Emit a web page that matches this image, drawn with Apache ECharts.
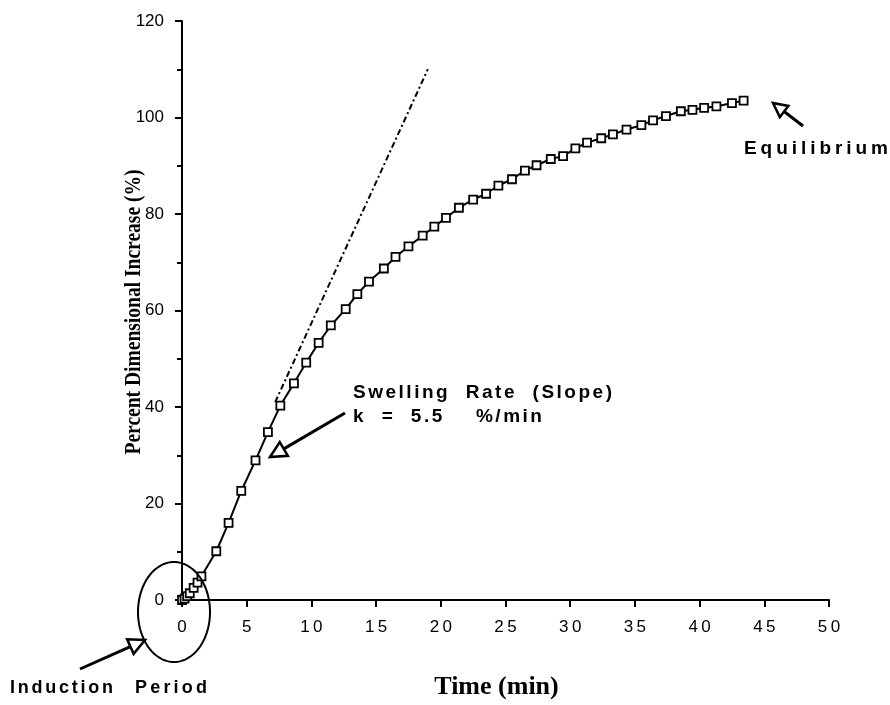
<!DOCTYPE html>
<html>
<head>
<meta charset="utf-8">
<script src="https://cdn.jsdelivr.net/npm/echarts@6/dist/echarts.min.js"></script>
<style>
html,body{margin:0;padding:0;background:#fff;}
#chart{width:890px;height:705px;}
</style>
</head>
<body>
<div id="chart"></div>
<script>
// ---- data ----
var timeMin = [0, 0.2, 0.4, 0.6, 0.9, 1.2, 1.5, 2.65, 3.6, 4.58, 5.68, 6.64, 7.6, 8.65, 9.6, 10.56, 11.5, 12.65, 13.55, 14.45, 15.6, 16.5, 17.5, 18.6, 19.5, 20.4, 21.4, 22.5, 23.5, 24.45, 25.5, 26.5, 27.4, 28.5, 29.45, 30.4, 31.3, 32.4, 33.3, 34.35, 35.5, 36.4, 37.4, 38.55, 39.45, 40.35, 41.3, 42.5, 43.4];
var increasePct = [0, 0.3, 0.8, 1.4, 2.5, 3.6, 4.9, 10.1, 16, 22.6, 28.95, 34.8, 40.3, 44.9, 49.2, 53.3, 56.9, 60.3, 63.4, 66, 68.7, 71.1, 73.3, 75.5, 77.4, 79.2, 81.3, 83, 84.2, 85.9, 87.2, 89, 90.1, 91.4, 92, 93.6, 94.8, 95.7, 96.5, 97.5, 98.4, 99.4, 100.3, 101.3, 101.6, 102, 102.3, 103, 103.5];
var tangentTime = [7.2, 19];
var tangentPct = [41, 110];
var xTicks = [0, 5, 10, 15, 20, 25, 30, 35, 40, 45, 50];
var yTicks = [0, 20, 40, 60, 80, 100, 120];
var xTitle = 'Time (min)';
var yTitle = 'Percent Dimensional Increase (%)';

var chart = echarts.init(document.getElementById('chart'), null, {renderer: 'canvas'});

function pairs(xs, ys) { return xs.map(function (x, i) { return [x, ys[i]]; }); }

var sans = 'Liberation Sans, Arial, sans-serif';
var serif = 'Liberation Serif, Times New Roman, serif';

var mctx = document.createElement('canvas').getContext('2d');
function measure(s, font) { mctx.font = font; return mctx.measureText(s).width; }

// letter-spaced text: fit string into a target width starting at x
function spaced(str, x, y, font, targetW) {
  var natural = measure(str, font);
  var sp = targetW ? (targetW - natural) / (str.length - 1) : 0;
  var kids = [], cx = x;
  for (var i = 0; i < str.length; i++) {
    var ch = str[i];
    if (ch !== ' ') {
      kids.push({type: 'text', x: cx, y: y, style: {text: ch, font: font, fill: '#000', textVerticalAlign: 'middle'}, z: 100});
    }
    cx += measure(ch, font) + sp;
  }
  return {type: 'group', children: kids, z: 100};
}

function arrow(tail, tip, headLen, headW) {
  var dx = tip[0] - tail[0], dy = tip[1] - tail[1];
  var L = Math.sqrt(dx * dx + dy * dy);
  var ux = dx / L, uy = dy / L;
  var bx = tip[0] - ux * headLen, by = tip[1] - uy * headLen;
  var px = -uy, py = ux;
  return [
    {type: 'line', shape: {x1: tail[0], y1: tail[1], x2: bx, y2: by}, style: {stroke: '#000', lineWidth: 3}, z: 100},
    {type: 'polygon', shape: {points: [[tip[0], tip[1]], [bx + px * headW, by + py * headW], [bx - px * headW, by - py * headW]]},
      style: {fill: '#fff', stroke: '#000', lineWidth: 2.5}, z: 101}
  ];
}

function ellipsePts(cx, cy, rx, ry) {
  var p = [];
  for (var i = 0; i <= 120; i++) {
    var a = i / 120 * Math.PI * 2;
    p.push([cx + rx * Math.cos(a), cy + ry * Math.sin(a)]);
  }
  return p;
}

var option = {
  animation: false,
  backgroundColor: '#fff',
  grid: {left: 182, top: 21, right: 61, bottom: 101, containLabel: false},
  xAxis: {
    type: 'value', min: 0, max: 50, interval: 5,
    name: xTitle, nameLocation: 'middle', nameGap: 74,
    nameTextStyle: {fontFamily: serif, fontWeight: 'bold', fontSize: 26, color: '#000', padding: [0, 18, 0, 0]},
    axisLine: {show: true, onZero: false, lineStyle: {color: '#000', width: 2}},
    axisTick: {show: true, inside: false, length: 7, lineStyle: {color: '#000', width: 2}},
    axisLabel: {show: true, margin: 19, fontFamily: sans, fontSize: 17, color: '#000',
      formatter: function (v) { return xTicks.indexOf(v) >= 0 ? String(v).split('').join('\u2009') : ''; }},
    splitLine: {show: false}
  },
  yAxis: {
    type: 'value', min: 0, max: 120, interval: 20,
    axisLine: {show: true, onZero: false, lineStyle: {color: '#000', width: 2}},
    axisTick: {show: true, inside: false, length: 7, lineStyle: {color: '#000', width: 2}},
    minorTick: {show: true, splitNumber: 2, length: 5, lineStyle: {color: '#000', width: 2}},
    axisLabel: {show: true, margin: 18, fontFamily: sans, fontSize: 17, color: '#000',
      formatter: function (v) { return yTicks.indexOf(v) >= 0 ? String(v) : ''; }},
    splitLine: {show: false}
  },
  series: [
    {
      type: 'line', name: 'tangent', data: pairs(tangentTime, tangentPct),
      showSymbol: false, symbol: 'none',
      lineStyle: {color: '#000', width: 2, type: [6, 3, 2, 3]}, z: 2
    },
    {
      type: 'line', name: 'swelling', data: pairs(timeMin, increasePct),
      symbol: 'rect', symbolSize: 8, showAllSymbol: true,
      lineStyle: {color: '#000', width: 2},
      itemStyle: {color: '#fff', borderColor: '#000', borderWidth: 1.8}, z: 3
    }
  ]
};
chart.setOption(option);

var g = [];
// y-axis title (slightly condensed Times bold, as in the scan)
var yFont = 'bold 24px ' + serif;
var yScale = 285 / measure(yTitle, yFont);
g.push({type: 'text', x: 134, y: 312, rotation: Math.PI / 2, scaleX: yScale,
  style: {text: yTitle, font: yFont, fill: '#000', textAlign: 'center', textVerticalAlign: 'middle'}, z: 100});

g.push({type: 'polyline', shape: {points: ellipsePts(174, 612, 36, 50)},
  style: {fill: null, stroke: '#000', lineWidth: 2}, z: 100});
g = g.concat(arrow([345, 413], [270, 457], 16, 8));
g = g.concat(arrow([803, 126], [773, 103], 14, 7));
g = g.concat(arrow([80, 669], [145, 640], 16, 8));
var f19 = 'bold 19px ' + sans;
var f18 = 'bold 18px ' + sans;
var swellW = 259;
var swellStr = 'Swelling  Rate  (Slope)';
g.push(spaced(swellStr, 353, 393, f19, swellW));
var swellSp = (swellW - measure(swellStr, f19)) / (swellStr.length - 1);
var kStr = 'k  =  5.5    %/min';
g.push(spaced(kStr, 353, 417, f19, measure(kStr, f19) + swellSp * (kStr.length - 1)));
g.push(spaced('Equilibrium', 744, 149, f19, 144));
g.push(spaced('Induction', 10, 688, f18, 103));
g.push(spaced('Period', 135, 688, f18, 72));
chart.setOption({graphic: g});
</script>
</body>
</html>
